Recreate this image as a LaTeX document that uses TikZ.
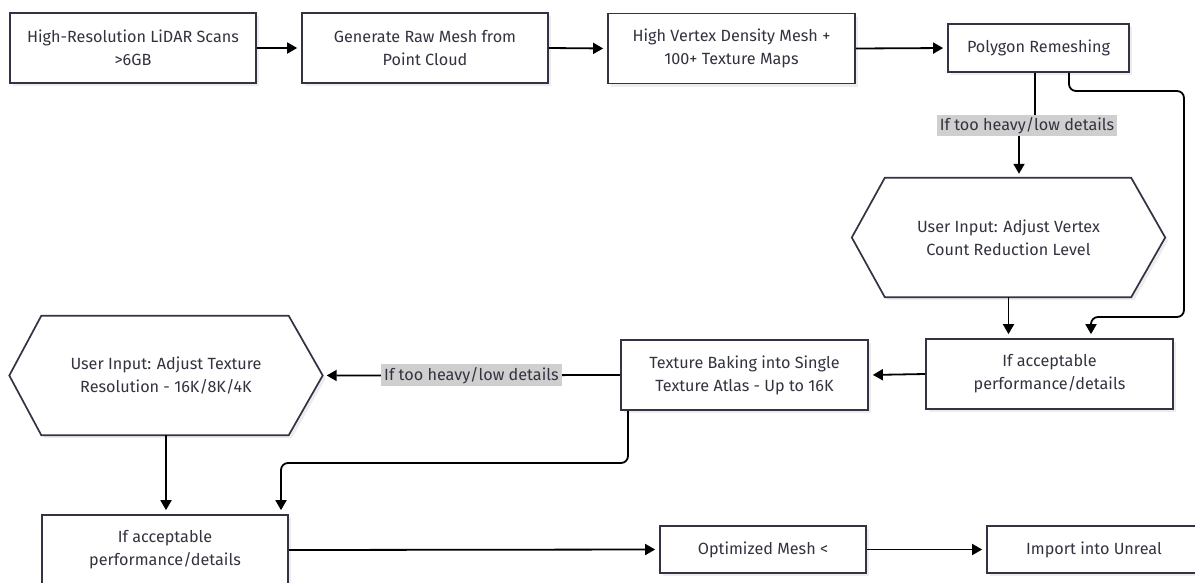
\documentclass[tikz,border=0pt]{standalone}
\usepackage{fontspec}
\setmainfont{Fira Sans}
\usetikzlibrary{arrows.meta,shadows}
\definecolor{txt}{HTML}{333340}
\definecolor{brd}{HTML}{333344}
\definecolor{lblc}{HTML}{CFCFCF}
\begin{document}
\begin{tikzpicture}[x=1pt,y=-1pt,
  txtfont/.style={font=\fontsize{16.2}{23}\selectfont},
  box/.style={draw=brd, line width=1.7pt, fill=white, text=txt, align=center, txtfont, inner sep=0pt,
    drop shadow={shadow xshift=3pt,shadow yshift=-3pt,fill=black,opacity=0.07}},
  hexbox/.style={draw=none, text=txt, align=center, txtfont, inner sep=0pt},
  hexline/.style={draw=brd, line width=1.7pt, fill=white},
  hexshadow/.style={fill=black!7},
  conn/.style={line width=1.8pt, draw=black, -{Triangle[length=10pt,width=11pt]}, shorten >=4pt},
  plain/.style={line width=1.8pt, draw=black},
  lbl/.style={fill=lblc, text=txt, txtfont, inner sep=0pt}
]
\useasboundingbox (0,0) rectangle (1195,582);
\clip (0,0) rectangle (1195,582);
\fill[white] (0,0) rectangle (1195,582);

% top row
\node[box, minimum width=246pt, minimum height=70pt] (b1) at (133,48) {High-Resolution LiDAR Scans\\>6GB};
\node[box, minimum width=246pt, minimum height=70pt] (b2) at (425,48) {Generate Raw Mesh from\\Point Cloud};
\node[box, minimum width=247pt, minimum height=70pt] (b3) at (731.5,48.5) {High Vertex Density Mesh +\\100+ Texture Maps};
\node[box, minimum width=181pt, minimum height=48pt] (poly) at (1038.5,48) {Polygon Remeshing};

% hexagon 1
\node[hexbox, minimum width=313pt, minimum height=119pt] (h1) at (1008.5,237.5) {};
\path[hexshadow] ([xshift=3pt,yshift=-3pt]h1.west) -- ([xshift=36pt,yshift=-3pt]h1.north west) -- ([xshift=-31pt,yshift=-3pt]h1.north east) -- ([xshift=3pt,yshift=-3pt]h1.east) -- ([xshift=-31pt,yshift=-3pt]h1.south east) -- ([xshift=36pt,yshift=-3pt]h1.south west) -- cycle;
\path[hexline] (h1.west) -- ([xshift=33pt]h1.north west) -- ([xshift=-34pt]h1.north east) -- (h1.east) -- ([xshift=-34pt]h1.south east) -- ([xshift=33pt]h1.south west) -- cycle;
\node[hexbox] (h1t) at (h1.center) {User Input: Adjust Vertex\\Count Reduction Level};

% middle row
\node[box, minimum width=247pt, minimum height=70pt] (acc1) at (1049.5,374) {If acceptable\\performance/details};
\node[box, minimum width=247pt, minimum height=70pt] (tex) at (744.5,375) {Texture Baking into Single\\Texture Atlas - Up to 16K};

% hexagon 2
\node[hexbox, minimum width=313pt, minimum height=119pt] (h2) at (166,375.5) {};
\path[hexshadow] ([xshift=3pt,yshift=-3pt]h2.west) -- ([xshift=35pt,yshift=-3pt]h2.north west) -- ([xshift=-31pt,yshift=-3pt]h2.north east) -- ([xshift=3pt,yshift=-3pt]h2.east) -- ([xshift=-31pt,yshift=-3pt]h2.south east) -- ([xshift=35pt,yshift=-3pt]h2.south west) -- cycle;
\path[hexline] (h2.west) -- ([xshift=32pt]h2.north west) -- ([xshift=-34pt]h2.north east) -- (h2.east) -- ([xshift=-34pt]h2.south east) -- ([xshift=32pt]h2.south west) -- cycle;
\node[hexbox] (h2t) at (h2.center) {User Input: Adjust Texture\\Resolution - 16K/8K/4K};

% bottom row
\node[box, minimum width=246pt, minimum height=70pt] (acc2) at (165,550) {If acceptable\\performance/details};
\node[box, minimum width=206pt, minimum height=47pt] (opt) at (763,549.5) {Optimized Mesh <};
\node[box, minimum width=214pt, minimum height=47pt] (imp) at (1094,549.5) {Import into Unreal};

% label 1
\node[lbl, minimum width=180pt, minimum height=21pt] (lab1) at (1027,125.5) {If too heavy/low details};

% coordinates for bends
\coordinate (c1) at (1184,91);
\coordinate (c2) at (1184,317);
\coordinate (c3) at (450,463);

% connectors
\draw[conn] (b1.east) -- (b2.west);
\draw[conn] (b2.east) -- (b3.west);
\draw[conn] (b3.east) -- (poly.west);
\draw[plain] ([xshift=-3.5pt]poly.south) -- ([xshift=-3.5pt]poly.south |- lab1.north);
\draw[conn] ([xshift=-8pt]lab1.south) -- ([xshift=-8pt]lab1.south |- h1.north);
\draw[conn, rounded corners=7pt] ([xshift=30.5pt]poly.south) |- (c1) -- (c2) -| ([xshift=41.5pt]acc1.north);
\draw[conn] (h1.south) -- (h1.south |- acc1.north);
\draw[conn] (acc1.west) -- (tex.east);
\draw[conn] (tex.west) -- node[lbl, minimum width=181pt, minimum height=22pt] (lab2) {If too heavy/low details} (h2.east);
\draw[conn] (h2.south) -- (h2.south |- acc2.north);
\draw[conn, rounded corners=7pt] ([xshift=-116.5pt]tex.south) |- (c3) -| ([xshift=116pt]acc2.north);
\draw[conn] (acc2.east) -- (opt.west);
\draw[conn] (opt.east) -- (imp.west);
\end{tikzpicture}
\end{document}
